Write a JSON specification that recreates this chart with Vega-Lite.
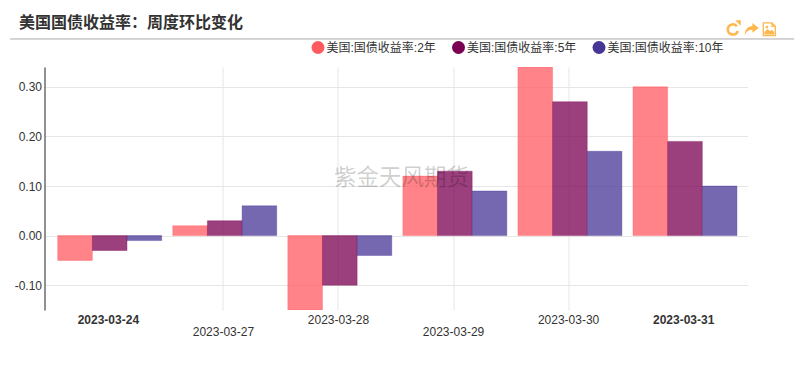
{
  "$schema": "https://vega.github.io/schema/vega-lite/v6.json",
  "width": 703,
  "height": 243,
  "autosize": "none",
  "padding": {"left": 44.5, "top": 67, "right": 58.5, "bottom": 60},
  "background": "white",
  "config": {"font": "Liberation Sans, Noto Sans CJK SC", "view": {"stroke": null}},
  "title": {"text": "美国国债收益率：周度环比变化", "anchor": "start", "frame": "group", "dx": -25.5, "offset": -12, "font": "Noto Sans CJK SC", "fontSize": 16, "fontWeight": "bold", "color": "#333333"},
  "resolve": {"scale": {"x": "independent"}},
  "layer": [
    {
      "data": {"values": [
        {"date": "2023-03-24", "series": "美国:国债收益率:2年", "value": -0.05},
        {"date": "2023-03-24", "series": "美国:国债收益率:5年", "value": -0.03},
        {"date": "2023-03-24", "series": "美国:国债收益率:10年", "value": -0.01},
        {"date": "2023-03-27", "series": "美国:国债收益率:2年", "value": 0.02},
        {"date": "2023-03-27", "series": "美国:国债收益率:5年", "value": 0.03},
        {"date": "2023-03-27", "series": "美国:国债收益率:10年", "value": 0.06},
        {"date": "2023-03-28", "series": "美国:国债收益率:2年", "value": -0.15},
        {"date": "2023-03-28", "series": "美国:国债收益率:5年", "value": -0.10},
        {"date": "2023-03-28", "series": "美国:国债收益率:10年", "value": -0.04},
        {"date": "2023-03-29", "series": "美国:国债收益率:2年", "value": 0.12},
        {"date": "2023-03-29", "series": "美国:国债收益率:5年", "value": 0.13},
        {"date": "2023-03-29", "series": "美国:国债收益率:10年", "value": 0.09},
        {"date": "2023-03-30", "series": "美国:国债收益率:2年", "value": 0.34},
        {"date": "2023-03-30", "series": "美国:国债收益率:5年", "value": 0.27},
        {"date": "2023-03-30", "series": "美国:国债收益率:10年", "value": 0.17},
        {"date": "2023-03-31", "series": "美国:国债收益率:2年", "value": 0.30},
        {"date": "2023-03-31", "series": "美国:国债收益率:5年", "value": 0.19},
        {"date": "2023-03-31", "series": "美国:国债收益率:10年", "value": 0.10}
      ]},
      "mark": {"type": "bar", "fillOpacity": 0.75, "strokeOpacity": 0.35, "strokeWidth": 1, "clip": true},
      "encoding": {
        "x": {"field": "date", "type": "nominal", "title": null,
          "scale": {"paddingInner": 0, "paddingOuter": 0.055},
          "axis": {
            "domain": false, "ticks": false, "labelAngle": 0, "labelOverlap": false, "labelFontSize": 12, "labelColor": "#333333", "labelPadding": 4, "labelLineHeight": 12.5, "labelBaseline": "top",
            "labelExpr": "datum.value == '2023-03-27' || datum.value == '2023-03-29' ? ['', datum.label] : datum.label",
            "labelFontWeight": {"condition": {"test": "datum.value == '2023-03-24' || datum.value == '2023-03-31'", "value": "bold"}, "value": "normal"},
            "grid": true, "gridColor": "#e6e6e6",
            "gridOpacity": {"condition": {"test": "datum.value == '2023-03-24' || datum.value == '2023-03-31'", "value": 0}, "value": 1}
          }},
        "xOffset": {"field": "series", "type": "nominal", "sort": ["美国:国债收益率:2年", "美国:国债收益率:5年", "美国:国债收益率:10年"], "scale": {"paddingInner": 0, "paddingOuter": 0.16, "align": 0.62}},
        "y": {"field": "value", "type": "quantitative", "title": null,
          "scale": {"domain": [-0.15, 0.34], "nice": false, "zero": false},
          "axis": {"values": [-0.1, 0, 0.1, 0.2, 0.3], "format": ".2f", "labelExpr": "replace(datum.label, '−', '-')", "domain": true, "domainColor": "#222222", "domainWidth": 1, "ticks": false, "labelFontSize": 12, "labelColor": "#333333", "labelPadding": 3, "grid": true, "gridColor": "#e6e6e6"}},
        "color": {"field": "series", "type": "nominal",
          "scale": {"domain": ["美国:国债收益率:2年", "美国:国债收益率:5年", "美国:国债收益率:10年"], "range": ["#ff5a60", "#7b0051", "#483695"]},
          "legend": {"title": null, "orient": "none", "legendX": 267, "legendY": -26, "direction": "horizontal", "columns": 3, "symbolType": "circle", "symbolSize": 169, "symbolOpacity": 1, "symbolStrokeWidth": 0, "labelFontSize": 12, "labelColor": "#333333", "labelOffset": 2, "columnPadding": 15.5, "labelLimit": 200}},
        "stroke": {"field": "series", "type": "nominal", "scale": {"domain": ["美国:国债收益率:2年", "美国:国债收益率:5年", "美国:国债收益率:10年"], "range": ["#ff5a60", "#7b0051", "#483695"]}, "legend": null}
      }
    },
    {
      "data": {"values": [{"note": "watermark"}]},
      "mark": {"type": "text", "font": "Noto Sans CJK SC", "fontSize": 22.5, "fontWeight": "normal", "fill": "#000000", "fillOpacity": 0.2, "clip": false},
      "encoding": {
        "text": {"datum": "紫金天风期货"},
        "x": {"datum": 0.508, "type": "quantitative", "scale": {"domain": [0, 1], "nice": false, "zero": false}, "axis": null},
        "y": {"datum": 0.116, "type": "quantitative"}
      }
    },
    {
      "data": {"values": [{"note": "header rule"}]},
      "mark": {"type": "rule", "color": "#aaaaaa", "strokeWidth": 1, "clip": false},
      "encoding": {
        "x": {"datum": -0.049, "type": "quantitative", "scale": {"domain": [0, 1], "nice": false, "zero": false}, "axis": null},
        "x2": {"datum": 1.0665},
        "y": {"datum": 0.3965, "type": "quantitative"}
      }
    },
    {
      "data": {"values": [{"note": "refresh"}]},
      "mark": {"type": "point", "filled": false, "size": 144, "color": "#ffb74d", "strokeWidth": 2.5, "opacity": 1, "clip": false, "shape": "M0.7,-0.5 A0.85,0.85 0 1 0 0.85,0.25"},
      "encoding": {
        "x": {"datum": 0.979, "type": "quantitative", "scale": {"domain": [0, 1], "nice": false, "zero": false}, "axis": null},
        "y": {"datum": 0.416, "type": "quantitative"}
      }
    },
    {
      "data": {"values": [{"note": "refresh head"}]},
      "mark": {"type": "point", "filled": true, "size": 30, "color": "#ffb74d", "opacity": 1, "clip": false, "shape": "M-1,-1 L1,-1 L1,1 Z"},
      "encoding": {
        "x": {"datum": 0.9865, "type": "quantitative", "scale": {"domain": [0, 1], "nice": false, "zero": false}, "axis": null},
        "y": {"datum": 0.4285, "type": "quantitative"}
      }
    },
    {
      "data": {"values": [{"note": "share"}]},
      "mark": {"type": "point", "filled": true, "size": 196, "color": "#ffb74d", "opacity": 1, "clip": false, "shape": "M0.1,-0.9 L1,-0.2 L0.1,0.5 L0.1,0.05 C-0.4,0.05 -0.8,0.3 -1,0.8 C-1,0 -0.5,-0.5 0.1,-0.45 Z"},
      "encoding": {
        "x": {"datum": 1.006, "type": "quantitative", "scale": {"domain": [0, 1], "nice": false, "zero": false}, "axis": null},
        "y": {"datum": 0.416, "type": "quantitative"}
      }
    },
    {
      "data": {"values": [{"note": "image outline"}]},
      "mark": {"type": "point", "filled": false, "size": 225, "color": "#ffb74d", "strokeWidth": 1.3, "opacity": 1, "clip": false, "shape": "M-0.8,-0.85 L0.35,-0.85 L0.8,-0.4 L0.8,0.85 L-0.8,0.85 Z M0.35,-0.85 L0.35,-0.4 L0.8,-0.4"},
      "encoding": {
        "x": {"datum": 1.031, "type": "quantitative", "scale": {"domain": [0, 1], "nice": false, "zero": false}, "axis": null},
        "y": {"datum": 0.416, "type": "quantitative"}
      }
    },
    {
      "data": {"values": [{"note": "image fill"}]},
      "mark": {"type": "point", "filled": true, "size": 225, "color": "#ffb74d", "opacity": 1, "clip": false, "shape": "M-0.65,0.7 L-0.65,0.35 L-0.2,-0.05 L0.1,0.25 L0.3,0.05 L0.65,0.35 L0.65,0.7 Z M-0.5,-0.3 A0.18,0.18 0 1 0 -0.14,-0.3 A0.18,0.18 0 1 0 -0.5,-0.3 Z"},
      "encoding": {
        "x": {"datum": 1.031, "type": "quantitative", "scale": {"domain": [0, 1], "nice": false, "zero": false}, "axis": null},
        "y": {"datum": 0.416, "type": "quantitative"}
      }
    }
  ]
}
